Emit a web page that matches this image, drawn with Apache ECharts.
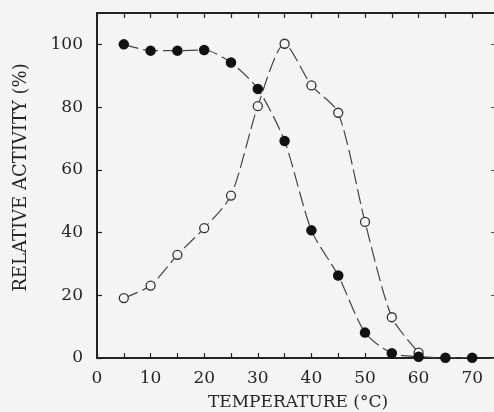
<!DOCTYPE html>
<html>
<head>
<meta charset="utf-8">
<script src="https://cdn.jsdelivr.net/npm/echarts@6/dist/echarts.min.js"></script>
<style>
html,body{margin:0;padding:0;background:#f4f4f4;}
#chart{width:494px;height:412px;}
</style>
</head>
<body>
<div id="chart"></div>
<script>
var temperatures = [5, 10, 15, 20, 25, 30, 35, 40, 45, 50, 55, 60, 65, 70];
var filledActivity = [100, 98, 98, 98.2, 94.2, 85.8, 69.2, 40.7, 26.3, 8.1, 1.5, 0.4, 0.1, 0.1];
var openTemps = [5, 10, 15, 20, 25, 30, 35, 40, 45, 50, 55, 60];
var openActivity = [19.1, 23.1, 32.9, 41.4, 51.8, 80.3, 100.2, 86.9, 78.2, 43.4, 13, 1.7];
var xTickValues = [0, 5, 10, 15, 20, 25, 30, 35, 40, 45, 50, 55, 60, 65, 70, 75];
var xLabelValues = [0, 10, 20, 30, 40, 50, 60, 70];
var yTickValues = [0, 20, 40, 60, 80, 100];
var xTitle = 'TEMPERATURE (°C)';
var yTitle = 'RELATIVE ACTIVITY (%)';

function pairs(xs, ys){ return xs.map(function(x,i){ return [x, ys[i]]; }); }

var font = 'DejaVu Serif';
var ink = '#262626';
var axisLineStyle = {onZero: false, lineStyle: {color: '#222', width: 2}};
var tickStyle = {inside: true, length: 5, lineStyle: {color: '#222', width: 1.2}};
var chart = echarts.init(document.getElementById('chart'));
chart.setOption({
  backgroundColor: '#f4f4f4',
  animation: false,
  grid: {left: 97, top: 13, right: -5, bottom: 54, containLabel: false, outerBoundsMode: 'none'},
  xAxis: [{
    type: 'value', min: 0, max: 75, interval: 5, position: 'bottom',
    name: xTitle, nameLocation: 'middle', nameGap: 36,
    nameTextStyle: {fontFamily: font, fontSize: 17, color: ink},
    axisLine: axisLineStyle,
    axisTick: Object.assign({customValues: xTickValues}, tickStyle),
    axisLabel: {fontFamily: font, fontSize: 17, color: ink, margin: 12,
      customValues: xLabelValues,
      formatter: function(v){ return String(v); }},
    splitLine: {show: false}
  },{
    type: 'value', min: 0, max: 75, interval: 5, position: 'top',
    axisLine: axisLineStyle,
    axisTick: Object.assign({customValues: xTickValues}, tickStyle),
    axisLabel: {show: false},
    splitLine: {show: false}
  }],
  yAxis: [{
    type: 'value', min: 0, max: 110, interval: 20, position: 'left',
    name: yTitle, nameLocation: 'middle', nameGap: 67, nameRotate: 90,
    nameTextStyle: {fontFamily: font, fontSize: 18, color: ink, padding: [0, 0, 0, 16]},
    axisLine: axisLineStyle,
    axisTick: Object.assign({customValues: yTickValues}, tickStyle),
    axisLabel: {fontFamily: font, fontSize: 17, color: ink, margin: 14,
      customValues: yTickValues,
      formatter: function(v){ return String(v); }},
    splitLine: {show: false}
  },{
    type: 'value', min: 0, max: 110, interval: 20, position: 'right',
    axisLine: {show: false, onZero: false},
    axisTick: {inside: true, length: 8, customValues: yTickValues, lineStyle: {color: '#555', width: 1}},
    axisLabel: {show: false},
    splitLine: {show: false}
  }],
  series: [{
    type: 'line', data: pairs(openTemps, openActivity),
    smooth: 0.25, symbol: 'circle', symbolSize: 9,
    itemStyle: {color: '#f4f4f4', borderColor: '#333', borderWidth: 1.3},
    lineStyle: {color: '#444', width: 1.2, type: [15, 5]},
    z: 3
  },{
    type: 'line', data: pairs(temperatures, filledActivity),
    smooth: 0.25, symbol: 'circle', symbolSize: 10.5,
    itemStyle: {color: '#111', borderColor: '#111', borderWidth: 0},
    lineStyle: {color: '#444', width: 1.2, type: [15, 5]},
    z: 4
  }]
});
</script>
</body>
</html>
